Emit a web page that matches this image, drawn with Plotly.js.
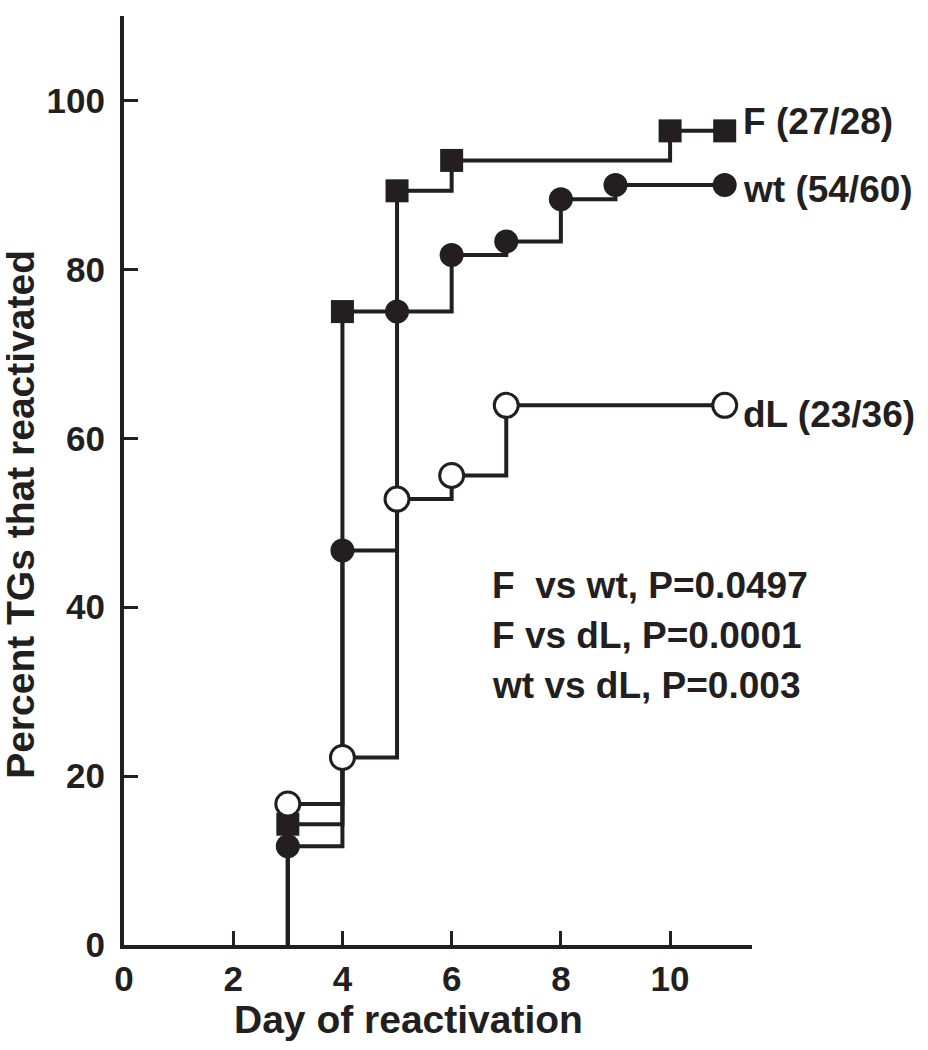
<!DOCTYPE html>
<html>
<head>
<meta charset="utf-8">
<script src="https://cdn.plot.ly/plotly-3.0.1.min.js"></script>
<style>
  html, body { margin: 0; padding: 0; background: #ffffff; }
  #chart { width: 928px; height: 1050px; }
</style>
</head>
<body>
<div id="chart"></div>
<script>
// ---- data ----
const daysF  = [3, 4, 5, 6, 10, 11];
const pctF   = [14.3, 75.0, 89.3, 92.9, 96.4, 96.4];
const daysWt = [3, 4, 5, 6, 7, 8, 9, 11];
const pctWt  = [11.7, 46.7, 75.0, 81.7, 83.3, 88.3, 90.0, 90.0];
const daysDL = [3, 4, 5, 6, 7, 11];
const pctDL  = [16.7, 22.2, 52.8, 55.6, 63.9, 63.9];
const seriesLabels = ['F (27/28)', 'wt (54/60)', 'dL (23/36)'];
const statLines = ['F\u00A0 vs wt, P=0.0497', 'F vs dL, P=0.0001', 'wt vs dL, P=0.003'];
const xTickVals = [0, 2, 4, 6, 8, 10];
const yTickVals = [0, 20, 40, 60, 80, 100];
const xTitle = 'Day of reactivation';
const yTitle = 'Percent TGs that reactivated';

const INK = '#231f20';
const FONT = 'Liberation Sans, Arial, Helvetica, sans-serif';

function stepLine(days, pct) {
  // survival-style step curve rising from 0 at the first day
  return {
    x: [days[0]].concat(days),
    y: [0].concat(pct),
    mode: 'lines',
    line: { shape: 'hv', color: INK, width: 4 },
    hoverinfo: 'skip',
    showlegend: false
  };
}
function markers(days, pct, symbol, fill) {
  return {
    x: days, y: pct, mode: 'markers',
    marker: { symbol: symbol, size: symbol === 'square' ? 23 : 24, color: fill,
              line: { color: INK, width: fill === '#ffffff' ? 3 : 0 } },
    showlegend: false, cliponaxis: false
  };
}

const traces = [
  stepLine(daysWt, pctWt),
  stepLine(daysF, pctF),
  stepLine(daysDL, pctDL),
  markers(daysWt, pctWt, 'circle', INK),
  markers(daysF, pctF, 'square', INK),
  markers(daysDL, pctDL, 'circle', '#ffffff')
];

const labelFont = { family: FONT, size: 37, color: INK, weight: 'bold' };
const statFont = { family: FONT, size: 37, color: INK, weight: 'bold' };
const annotations = [];
const ends = [
  [daysF, pctF, 9],
  [daysWt, pctWt, -5],
  [daysDL, pctDL, -9]
];
ends.forEach(function (e, i) {
  annotations.push({
    x: e[0][e[0].length - 1], y: e[1][e[1].length - 1], xref: 'x', yref: 'y',
    text: seriesLabels[i], showarrow: false, xanchor: 'left', yanchor: 'middle',
    xshift: 16, yshift: e[2], font: labelFont
  });
});
const statY = [42.6, 36.7, 30.7];
statLines.forEach(function (t, i) {
  annotations.push({
    x: 6.7, y: statY[i], xref: 'x', yref: 'y', text: t, showarrow: false,
    xanchor: 'left', yanchor: 'middle', font: statFont
  });
});
annotations.push({
  x: 0.4538, y: 0, xref: 'paper', yref: 'paper', text: xTitle, showarrow: false,
  xanchor: 'center', yanchor: 'middle', yshift: -74,
  font: { family: FONT, size: 39, color: INK, weight: 'bold' }
});
annotations.push({
  x: 0, y: 0.463, xref: 'paper', yref: 'paper', text: yTitle, showarrow: false,
  textangle: -90, xanchor: 'center', yanchor: 'middle', xshift: -103,
  font: { family: FONT, size: 39, color: INK, weight: 'bold' }
});

const tickFont = { family: FONT, size: 35, color: INK, weight: 'bold' };
const layout = {
  width: 928, height: 1050,
  margin: { l: 124, r: 176, t: 16, b: 105 },
  paper_bgcolor: '#ffffff', plot_bgcolor: '#ffffff',
  showlegend: false,
  xaxis: {
    range: [0, 11.5], tickmode: 'array', tickvals: xTickVals,
    ticks: 'inside', ticklen: 14, tickwidth: 3, tickcolor: INK,
    showline: true, linewidth: 4, linecolor: INK,
    showgrid: false, zeroline: false, tickfont: tickFont, ticklabelstandoff: 0
  },
  yaxis: {
    range: [0, 110], tickmode: 'array', tickvals: yTickVals,
    ticks: 'inside', ticklen: 14, tickwidth: 3, tickcolor: INK,
    showline: true, linewidth: 4, linecolor: INK,
    showgrid: false, zeroline: false, tickfont: tickFont, ticklabelstandoff: 8
  },
  annotations: annotations
};

Plotly.newPlot('chart', traces, layout, { staticPlot: true });
</script>
</body>
</html>
